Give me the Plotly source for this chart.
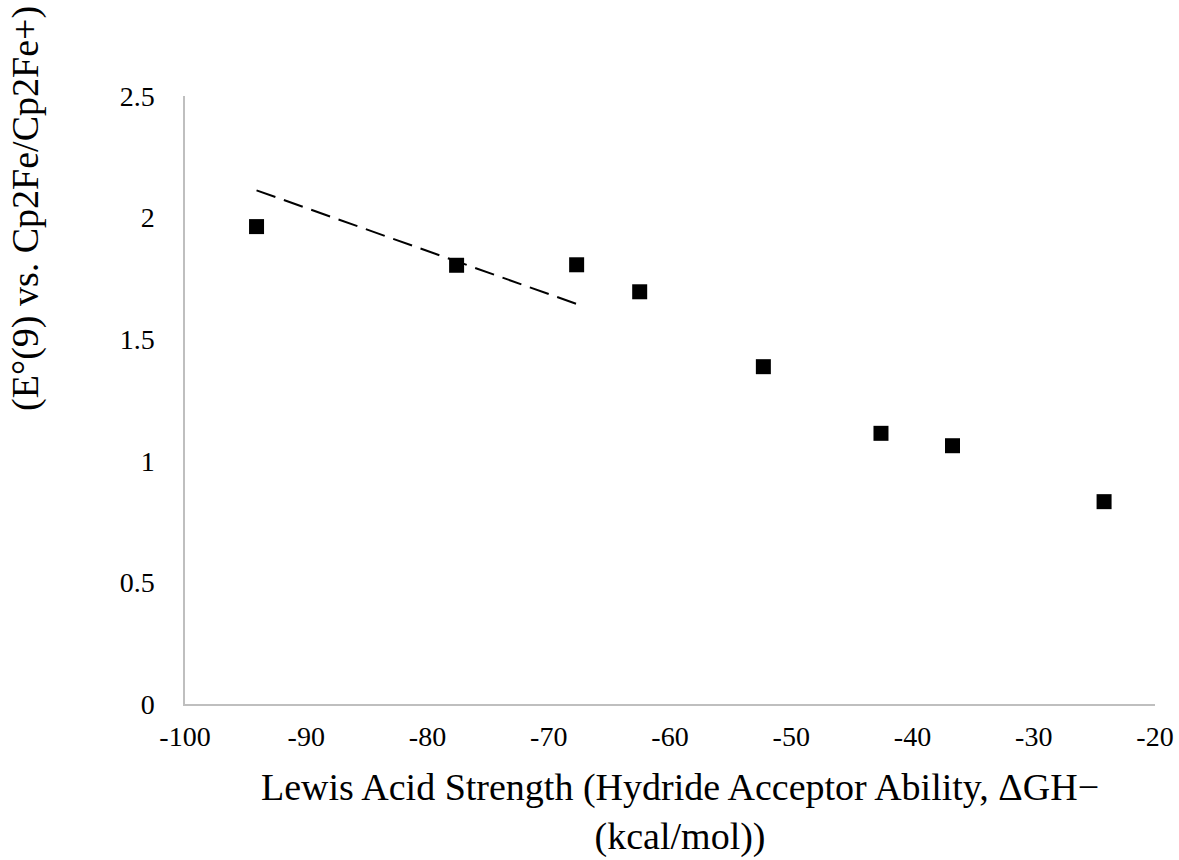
import plotly.graph_objects as go

# Hydride acceptor ability (kcal/mol) and reduction potential (V)
hydride_affinity = [-94.1, -77.6, -67.7, -62.5, -52.3, -42.6, -36.7, -24.2]
e_potential = [1.963, 1.804, 1.806, 1.695, 1.387, 1.113, 1.062, 0.832]

# Trend line over the strongest acids
trend_x = [-94.1, -67.7]
trend_y = [2.112, 1.645]

x_ticks = [-100, -90, -80, -70, -60, -50, -40, -30, -20]
x_tick_text = ["-100", "-90", "-80", "-70", "-60", "-50", "-40", "-30", "-20"]
y_ticks = [0, 0.5, 1, 1.5, 2, 2.5]
y_tick_text = ["0", "0.5", "1", "1.5", "2", "2.5"]

FONT = "Liberation Serif"
AXIS_GREY = "#bfbfbf"

fig = go.Figure()

fig.add_trace(go.Scatter(
    x=trend_x, y=trend_y, mode="lines",
    line=dict(color="black", width=2, dash="20px,9px"),
    showlegend=False, hoverinfo="skip",
))

fig.add_trace(go.Scatter(
    x=hydride_affinity, y=e_potential, mode="markers",
    marker=dict(symbol="square", size=15, color="black", line=dict(width=0)),
    showlegend=False,
))

fig.update_layout(
    width=1179, height=860,
    margin=dict(l=185, r=24, t=96, b=156),
    paper_bgcolor="white", plot_bgcolor="white",
    font=dict(family=FONT, color="black", size=28),
    xaxis=dict(
        range=[-100, -20], tickvals=x_ticks, ticktext=x_tick_text,
        showgrid=False, zeroline=False, automargin=False,
        showline=True, linecolor=AXIS_GREY, linewidth=1.5, ticks="",
        ticklabelstandoff=7, tickfont=dict(size=28, family=FONT),
    ),
    yaxis=dict(
        range=[0, 2.5], tickvals=y_ticks, ticktext=y_tick_text,
        showgrid=False, zeroline=False, automargin=False,
        showline=True, linecolor=AXIS_GREY, linewidth=1.5, ticks="",
        ticklabelstandoff=23, tickfont=dict(size=28, family=FONT),
    ),
    annotations=[
        dict(
            text="Lewis Acid Strength (Hydride Acceptor Ability, ΔGH−<br>(kcal/mol))",
            xref="paper", yref="paper", x=0.510, y=-0.178,
            xanchor="center", yanchor="middle", showarrow=False,
            font=dict(size=38, family=FONT, color="black"),
        ),
        dict(
            text="(E°(9) vs. Cp2Fe/Cp2Fe+)",
            xref="paper", yref="paper", x=-0.164, y=0.8158,
            xanchor="center", yanchor="middle", textangle=-90, showarrow=False,
            font=dict(size=38, family=FONT, color="black"),
        ),
    ],
)

fig.write_html("out.html")
